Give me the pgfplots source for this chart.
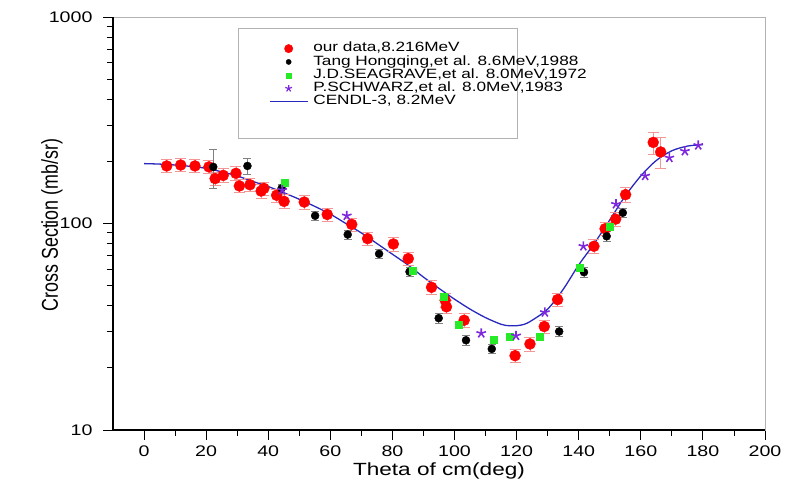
\documentclass[border=0pt]{standalone}
\usepackage{fontspec}
\setmainfont{Liberation Sans}[FakeStretch=1.28]
\newfontfamily\ylabfont{Liberation Sans}[FakeStretch=0.78]
\usepackage{pgfplots}
\usepackage{pgfplotstable}
\pgfplotsset{compat=1.18}
\definecolor{cendl}{RGB}{40,40,190}
\definecolor{ourred}{RGB}{255,0,0}
\definecolor{errred}{RGB}{245,150,150}
\definecolor{jdgreen}{RGB}{40,235,40}
\definecolor{starpurple}{RGB}{125,40,220}

\pgfplotstableread{
x y e
7.3 190 14
11.8 192 14
16.4 190 14
20.9 188 14
22.9 165 12
25.5 171 13
29.6 175 13
30.7 152 11
34.1 154 11.5
37.7 143.6 11
38.6 148 11
42.7 137 10
45.1 128 9.6
51.6 127 9.5
59.0 110.6 8.3
66.9 99 7.4
72.0 84.5 6.3
80.3 79.6 6
85.1 67.6 5
92.6 49.1 3.7
97.0 42.5 3.2
97.4 39.5 3
103.1 34.0 2.5
119.5 22.9 1.7
124.3 26.1 2
128.9 31.7 2.4
133.2 42.8 3.2
144.9 77.6 5.8
148.5 94.3 7
151.9 105 7.9
155.1 138 12
164.0 247 30
166.4 222 38
}\ourdata

\pgfplotstableread{
x y e
22.3 188 40
33.3 190 17
44.3 148 7.5
55.1 109 5.5
65.6 88.4 4.4
75.7 71.3 3.6
85.5 58.4 3
94.9 34.8 1.8
103.7 27.2 1.4
112.0 24.7 1.3
133.7 30.0 1.6
141.7 58.1 3
149.0 86.7 4.4
154.2 112.7 5.6
}\tangdata

\pgfplotstableread{
x y
45.4 158
86.5 59.3
96.4 44.4
101.2 32.2
112.5 27.5
117.7 28.2
127.3 28.4
140.2 60.9
150.1 97
}\seadata

\pgfplotstableread{
x y
44.5 145
65.3 109
108.6 29.4
119.8 28.6
129.1 37.1
141.5 77.6
152.0 124
161.4 170
169.2 208
174.2 224
178.5 239
}\schdata

\pgfplotstableread{
x y
0 195
5 194
10 192
15 189
20 185
25 178
30 170
35 160
40 151
45 141
50 131
55 121
60 111
65 100
70 90
75 80
80 71
85 63
90 55
95 48.5
100 43
105 38.5
110 35
115 32.5
117.5 32
120 32
122.5 32.5
125 34
130 38.5
135 48
140 63
145 80
150 104
155 136
160 170
165 202
170 225
175 237
180 241
}\cendldata

\begin{document}
\begin{tikzpicture}
\useasboundingbox (-113bp,-53bp) rectangle (675bp,430bp);
\begin{axis}[
  scale only axis, width=652bp, height=413bp,
  xmin=-10, xmax=200, ymin=10, ymax=1000, ymode=log,
  xtick={0,20,...,200}, minor x tick num=1,
  ytick={10,100,1000}, yticklabels={10,100,1000},
  tick align=outside, xtick pos=left, ytick pos=left,
  major tick length=10bp, minor tick length=6bp,
  every tick/.style={black, line width=0.9pt},
  /pgf/number format/assume math mode=true,
  /pgf/number format/1000 sep={},
  tick label style={font=\fontsize{15.4}{18}\selectfont},
  yticklabel style={xshift=-7bp},
  xticklabel style={yshift=-2bp},
  axis line style={draw=gray!60, line width=0.6pt},
  xlabel={Theta of cm(deg)},
  xlabel style={font=\fontsize{17.7}{20}\selectfont, at={(axis description cs:0.5,-0.109)}, anchor=base},
  ylabel={Cross Section (mb/sr)},
  ylabel style={font=\ylabfont\fontsize{23}{26}\selectfont, at={(axis description cs:-0.0936,0.4964)}, anchor=center},
  legend image code/.code={\draw[mark repeat=2,mark phase=2,#1] plot coordinates {(0bp,0bp) (19bp,0bp) (38bp,0bp)};},
  legend style={draw=none, fill=none, at={(axis description cs:0.2393,0.9395)}, anchor=north west,
    inner sep=0pt, outer sep=0pt, column sep=5bp, row sep=0pt,
    font=\fontsize{13.5}{13.3}\selectfont,
    nodes={inner ysep=0pt, inner xsep=0pt, text height=9.8bp, text depth=3.5bp}},
  legend cell align=left,
  clip=false,
]
\draw[gray!60, line width=0.8pt] (rel axis cs:0.1917,0.707) rectangle (rel axis cs:0.6196,0.9734);

\addplot[forget plot, color=cendl, line width=1.3pt, smooth, mark=none] table[x=x,y=y] {\cendldata};

\addplot[forget plot, only marks, mark=*, mark size=5.5bp, mark options={draw=ourred, fill=ourred},
  error bars/.cd, y dir=both, y explicit,
  error bar style={color=errred, line width=0.8pt},
  error mark options={rotate=90, mark size=5.5bp, color=errred, line width=0.8pt}]
  table[x=x,y=y,y error=e] {\ourdata};

\addplot[forget plot, only marks, mark=*, mark size=4bp, mark options={draw=black, fill=black},
  error bars/.cd, y dir=both, y explicit,
  error bar style={color=gray, line width=0.8pt},
  error mark options={rotate=90, mark size=4bp, color=gray, line width=0.8pt}]
  table[x=x,y=y,y error=e] {\tangdata};

\addplot[forget plot, only marks, mark=square*, mark size=3.5bp, mark options={draw=jdgreen, fill=jdgreen}]
  table[x=x,y=y] {\seadata};

\addplot[forget plot, only marks, mark=star, mark size=5bp, mark options={draw=starpurple, fill=starpurple, line width=1.6pt}]
  table[x=x,y=y] {\schdata};

\draw[black, line width=1.2pt] (rel axis cs:0,1) -- (rel axis cs:0,0) -- (rel axis cs:1,0);

\addlegendimage{only marks, mark=*, mark size=4.2bp, mark options={draw=ourred, fill=ourred}}
\addlegendentry{our data,8.216MeV}
\addlegendimage{only marks, mark=*, mark size=2.6bp, mark options={draw=black, fill=black}}
\addlegendentry{Tang Hongqing,et al. 8.6MeV,1988}
\addlegendimage{only marks, mark=square*, mark size=2.5bp, mark options={draw=jdgreen, fill=jdgreen}}
\addlegendentry{J.D.SEAGRAVE,et al. 8.0MeV,1972}
\addlegendimage{only marks, mark=star, mark size=3.5bp, mark options={draw=starpurple, line width=1.2pt}}
\addlegendentry{P.SCHWARZ,et al. 8.0MeV,1983}
\addlegendimage{color=cendl, line width=1.3pt, mark=none}
\addlegendentry{CENDL-3, 8.2MeV}
\end{axis}
\end{tikzpicture}
\end{document}
